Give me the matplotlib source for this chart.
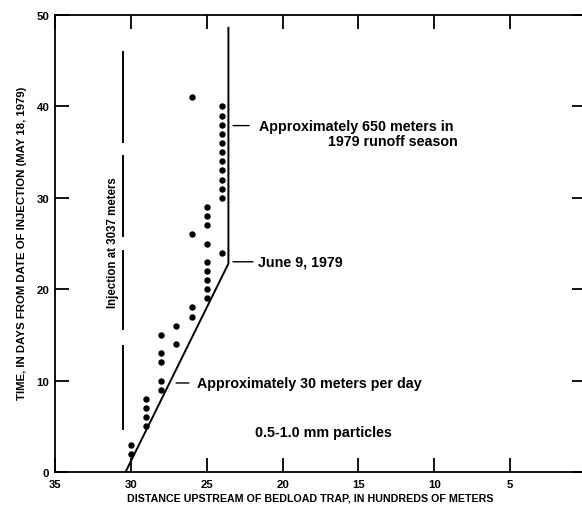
import matplotlib
matplotlib.use("Agg")
import matplotlib.pyplot as plt

# ---- data ----
dist_pts = [30, 30, 29, 29, 29, 29, 28, 28, 28, 28, 28, 27, 27, 26, 26,
            25, 25, 25, 25, 25, 24, 26, 26, 25, 25, 25, 25,
            24, 24, 24, 24, 24, 24, 24, 24, 24, 24, 24]
day_pts = [3, 2, 8, 7, 6, 5, 15, 13, 12, 10, 9, 16, 14, 18, 17,
           23, 22, 21, 20, 19, 24, 41, 26, 29, 28, 27, 25,
           40, 39, 38, 37, 36, 35, 34, 33, 32, 31, 30]

trend_dist = [30.35, 23.57, 23.57]
trend_days = [0, 22.8, 48.6]

inj_dist = 30.54
inj_segments = [(45.95, 36.1), (34.6, 25.8), (24.2, 15.6), (13.8, 4.7)]

xticks = [35, 30, 25, 20, 15, 10, 5]
yticks = [0, 10, 20, 30, 40, 50]

FONT = "Liberation Sans"
plt.rcParams['font.family'] = [FONT, 'DejaVu Sans']

fig = plt.figure(figsize=(5.82, 5.06), dpi=100)
ax = fig.add_axes([55/582, 33/506, 531/582, 457/506])
ax.set_xlim(35, 0)
ax.set_ylim(0, 50)

ax.plot(dist_pts, day_pts, 'o', color='black', markersize=3.6, clip_on=False)
ax.plot(trend_dist, trend_days, '-', color='black', linewidth=1.4)
for y0, y1 in inj_segments:
    ax.plot([inj_dist, inj_dist], [y0, y1], '-', color='black', linewidth=1.4)

ax.set_xticks(xticks)
ax.set_xticklabels([str(t) for t in xticks], fontweight='bold', fontsize=8.2)
ax.set_yticks(yticks)
ax.set_yticklabels([str(t) for t in yticks], fontweight='bold', fontsize=8.2)
ax.tick_params(direction='in', length=10, width=1.3, top=True, right=True, pad=4)
ax.tick_params(axis='x', pad=5)
for s in ax.spines.values():
    s.set_linewidth(1.3)
ax.spines['right'].set_visible(False)

fig.text(310/582, 1 - 499/506, "DISTANCE UPSTREAM OF BEDLOAD TRAP, IN HUNDREDS OF METERS",
         ha='center', va='center', fontsize=7.7, fontweight='bold')
fig.text(22/582, 1 - 243/506, "TIME, IN DAYS FROM DATE OF INJECTION (MAY 18, 1979)",
         ha='center', va='center', rotation=90, fontsize=8.2, fontweight='bold')

tk = dict(fontsize=10.3, fontweight='bold', va='center', ha='left')
lp = dict(arrowstyle='-', color='black', lw=1.0, shrinkA=0, shrinkB=0)

ax.annotate("", xy=(23.27, 37.9), xytext=(22.2, 37.9), arrowprops=lp)
ax.text(21.55, 37.9, "Approximately 650 meters in", **tk)
ax.text(17.0, 36.2, "1979 runoff season", **tk)

ax.annotate("", xy=(23.27, 23.0), xytext=(21.95, 23.0), arrowprops=lp)
ax.text(21.6, 23.0, "June 9, 1979", **tk)

ax.annotate("", xy=(27.02, 9.74), xytext=(26.17, 9.74), arrowprops=lp)
ax.text(25.64, 9.74, "Approximately 30 meters per day", **tk)

ax.text(21.8, 4.4, "0.5-1.0 mm particles", **tk)

ax.text(31.18, 25.2, "Injection at 3037 meters", rotation=90, ha='center', va='center',
        fontsize=8.3, fontweight='bold')

fig.savefig("out.png", dpi=100)
